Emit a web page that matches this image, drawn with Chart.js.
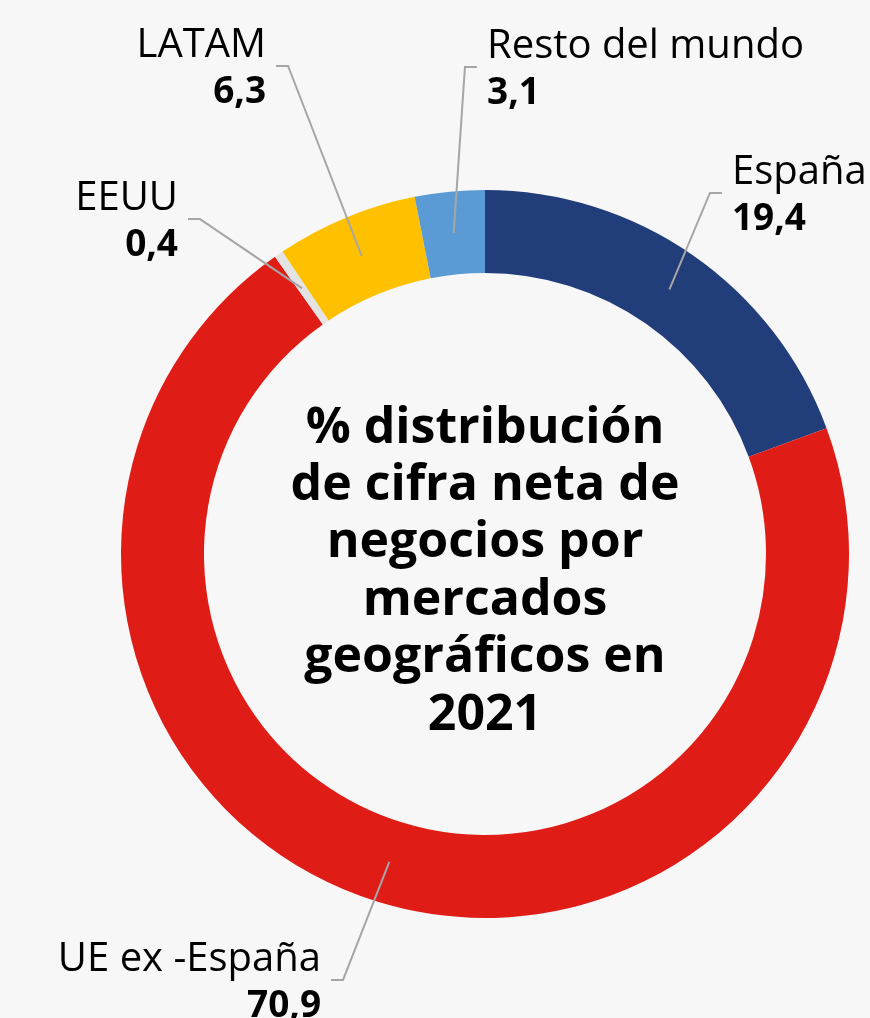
<!DOCTYPE html>
<html lang="es">
<head>
<meta charset="utf-8">
<title>% distribución de cifra neta de negocios por mercados geográficos en 2021</title>
<script src="https://cdn.jsdelivr.net/npm/chart.js@4.4.1/dist/chart.umd.min.js"></script>
<style>
  html, body { margin: 0; padding: 0; background: #f7f7f7; }
  #wrap { position: relative; width: 870px; height: 1018px; }
</style>
</head>
<body>
<div id="wrap"><canvas id="myDonut"></canvas></div>
<script>
// Datos del gráfico
var markets = ["España", "UE ex -España", "EEUU", "LATAM", "Resto del mundo"];
var shares = [19.4, 70.9, 0.4, 6.3, 3.1];
var sliceColors = ['#213d7a', '#df1c16', '#e3e3e3', '#ffc000', '#5b9bd5'];
var titleLines = ["% distribución", "de cifra neta de", "negocios por", "mercados", "geográficos en", "2021"];

// where each label's leader line bends, relative to the centre, in outer radii
var labelElbows = [[0.618, -0.992], [-0.390, 1.170], [-0.783, -0.920], [-0.541, -1.341], [-0.055, -1.338]];
var labelSides = ['right', 'left', 'left', 'left', 'right'];

var FONT = '"Open Sans", "DejaVu Sans", sans-serif';

// Etiquetas con línea guía y título central
var calloutPlugin = {
    id: 'callouts',
    afterDatasetsDraw: function (chart) {
        var ctx = chart.ctx;
        var meta = chart.getDatasetMeta(0);
        var cx = 0, cy = 0;
        ctx.save();
        meta.data.forEach(function (arc, i) {
            var p = arc.getProps(['x', 'y', 'startAngle', 'endAngle', 'innerRadius', 'outerRadius'], true);
            cx = p.x; cy = p.y;
            var mid = (p.startAngle + p.endAngle) / 2;
            var r = (p.innerRadius + p.outerRadius) / 2;
            var sx = p.x + Math.cos(mid) * r;
            var sy = p.y + Math.sin(mid) * r;
            var ex = p.x + labelElbows[i][0] * p.outerRadius;
            var ey = p.y + labelElbows[i][1] * p.outerRadius;
            var dir = labelSides[i] === 'right' ? 1 : -1;
            var tx = ex + dir * 12;

            ctx.strokeStyle = '#a6a6a6';
            ctx.lineWidth = 2;
            ctx.beginPath();
            ctx.moveTo(sx, sy);
            ctx.lineTo(ex, ey);
            ctx.lineTo(tx, ey);
            ctx.stroke();

            ctx.fillStyle = '#000';
            ctx.textAlign = dir > 0 ? 'left' : 'right';
            ctx.textBaseline = 'alphabetic';
            var lx = tx + dir * 10;
            ctx.font = '400 40px ' + FONT;
            ctx.fillText(markets[i], lx, ey - 9);
            ctx.font = '700 37px ' + FONT;
            ctx.fillText(shares[i].toFixed(1).replace('.', ','), lx, ey + 37);
        });

        ctx.fillStyle = '#000';
        ctx.textAlign = 'center';
        ctx.textBaseline = 'alphabetic';
        ctx.font = '700 50px ' + FONT;
        var lh = 57.4;
        titleLines.forEach(function (line, i) {
            ctx.fillText(line, cx, cy + 32 + (i - (titleLines.length - 1) / 2) * lh);
        });
        ctx.restore();
    }
};

var ctx = document.getElementById("myDonut");
var myDonut = new Chart(ctx, {
    type: 'doughnut',
    data: {
        labels: markets,
        datasets: [{
            data: shares,
            backgroundColor: sliceColors,
            borderWidth: 0,
        }],
    },
    options: {
        responsive: true,
        maintainAspectRatio: false,
        animation: false,
        cutout: '77.2%',
        layout: {
            padding: { left: 121, right: 21, top: 190, bottom: 100 }
        },
        plugins: {
            legend: { display: false },
            tooltip: { enabled: false },
        },
    },
    plugins: [calloutPlugin],
});
</script>
</body>
</html>
